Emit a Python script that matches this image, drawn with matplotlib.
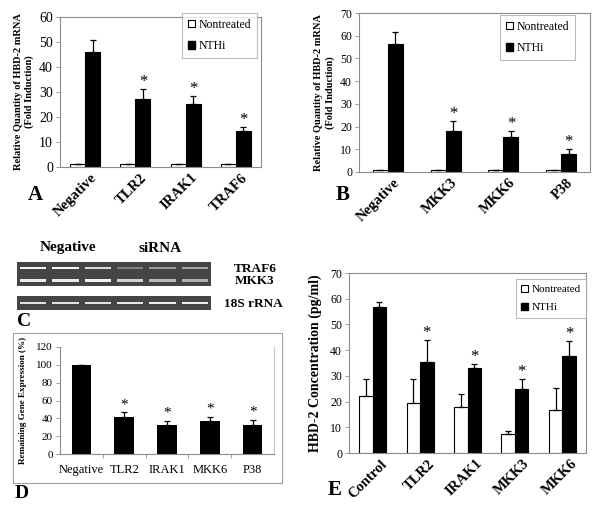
import matplotlib
matplotlib.use('Agg')
import matplotlib.pyplot as plt
import matplotlib.transforms as mtrans
import numpy as np
from matplotlib.patches import Patch, Rectangle

plt.rcParams['font.family'] = ['Liberation Serif', 'DejaVu Serif']

# ---- data ----
a_labels = ['Negative', 'TLR2', 'IRAK1', 'TRAF6']
a_non = [1.3, 1.3, 1.3, 1.3]
a_non_err = [0, 0, 0, 0]
a_nthi = [46.1, 27.1, 25.2, 14.6]
a_nthi_err = [4.9, 4.0, 3.1, 1.3]
a_star = [False, True, True, True]

b_labels = ['Negative', 'MKK3', 'MKK6', 'P38']
b_non = [0.8, 0.8, 0.8, 0.8]
b_non_err = [0, 0, 0, 0]
b_nthi = [56.4, 17.9, 15.3, 7.9]
b_nthi_err = [5.4, 4.6, 2.6, 2.1]
b_star = [False, True, True, True]

gel_lanes = [0, 1, 2, 3, 4, 5]
gel_traf6 = [0.95, 0.97, 0.85, 0.5, 0.6, 0.65]
gel_mkk3 = [0.92, 0.92, 0.95, 0.82, 0.72, 0.68]
gel_18s = [0.88, 0.88, 0.88, 0.9, 0.93, 0.93]

d_labels = ['Negative', 'TLR2', 'IRAK1', 'MKK6', 'P38']
d_vals = [100, 41, 33, 37.4, 33]
d_err = [0, 5.7, 4, 4.1, 5]
d_star = [False, True, True, True, True]

e_labels = ['Control', 'TLR2', 'IRAK1', 'MKK3', 'MKK6']
e_non = [22.1, 19.6, 17.7, 7.5, 16.9]
e_non_err = [6.7, 9.2, 5.3, 1.1, 8.4]
e_nthi = [56.6, 35.5, 32.9, 24.7, 37.8]
e_nthi_err = [2.0, 8.3, 1.6, 4.0, 5.7]
e_star = [False, True, True, True, True]

W, H = 600, 517
fig = plt.figure(figsize=(6, 5.17), dpi=100)


def box(l, t, r, b):
    return [l / W, 1 - b / H, (r - l) / W, (b - t) / H]


def frame(ax):
    for s in ax.spines.values():
        s.set_color('#8c8c8c')
        s.set_linewidth(0.8)
    ax.tick_params(axis='y', length=3, width=0.6, color='#8c8c8c', pad=2)
    ax.tick_params(axis='x', length=0)


def stars(ax, x, tops, flags, off=5, size=12):
    for xi, t, f in zip(x, tops, flags):
        if f:
            ax.annotate('*', (xi, t), xytext=(0, off), textcoords='offset points',
                        ha='center', va='center', fontsize=size)


def grouped(ax, labels, non, non_err, nthi, nthi_err, flags, w, lab_size, shift):
    x = np.arange(len(labels))
    ek = dict(lw=0.9, capthick=0.9, ecolor='black')
    ax.bar(x - w / 2, non, w, color='white', edgecolor='black', lw=0.8,
           yerr=[np.zeros(len(x)), non_err], capsize=2.5, error_kw=ek)
    ax.bar(x + w / 2, nthi, w, color='black', edgecolor='black', lw=0.8,
           yerr=[np.zeros(len(x)), nthi_err], capsize=2.5, error_kw=ek)
    stars(ax, x + w / 2, np.array(nthi) + np.array(nthi_err), flags)
    ax.set_xlim(-0.5, len(x) - 0.5)
    ax.set_xticks(x)
    ax.set_xticklabels(labels, rotation=45, ha='right', va='top',
                       rotation_mode='anchor', fontweight='bold', fontsize=lab_size)
    frame(ax)
    ax.tick_params(axis='x', pad=3)
    off = mtrans.ScaledTranslation(shift / 100, 0, fig.dpi_scale_trans)
    for t in ax.get_xticklabels():
        t.set_transform(t.get_transform() + off)


def legend(ax, x, y, size):
    h = [Patch(facecolor='white', edgecolor='black', lw=0.8),
         Patch(facecolor='black', edgecolor='black')]
    lg = ax.legend(h, ['Nontreated', 'NTHi'], loc='upper right',
                   bbox_to_anchor=(x / W, 1 - y / H), bbox_transform=fig.transFigure,
                   fancybox=False, edgecolor='#aaaaaa', fontsize=size,
                   handlelength=0.6, handleheight=0.6, handletextpad=0.3,
                   borderpad=0.5, labelspacing=0.8, borderaxespad=0)
    lg.get_frame().set_linewidth(0.8)


# ---- A ----
axA = fig.add_axes(box(60, 17, 261, 167))
grouped(axA, a_labels, a_non, a_non_err, a_nthi, a_nthi_err, a_star, 0.3, 10.5, 5)
axA.set_ylim(0, 60)
axA.set_yticks(range(0, 61, 10))
axA.tick_params(axis='y', labelsize=10)
axA.set_ylabel('Relative Quantity of HBD-2 mRNA\n(Fold Induction)',
               fontweight='bold', fontsize=7.5, labelpad=4)
legend(axA, 257, 13, 8.5)
fig.text(35 / W, 1 - 195 / H, 'A', fontsize=15, fontweight='bold', ha='center', va='center')

# ---- B ----
axB = fig.add_axes(box(359, 13, 590, 172))
grouped(axB, b_labels, b_non, b_non_err, b_nthi, b_nthi_err, b_star, 0.26, 10.5, 5)
axB.set_ylim(0, 70)
axB.set_yticks(range(0, 71, 10))
axB.tick_params(axis='y', labelsize=8.5)
axB.set_ylabel('Relative Quantity of HBD-2 mRNA\n(Fold Induction)',
               fontweight='bold', fontsize=7.5, labelpad=4)
legend(axB, 575, 15, 8.5)
fig.text(343 / W, 1 - 195 / H, 'B', fontsize=15, fontweight='bold', ha='center', va='center')

# ---- C (gel) ----
bg = '#454545'
gel1 = fig.add_axes(box(17, 262, 211, 286))
gel2 = fig.add_axes(box(17, 296, 211, 310))
for g in (gel1, gel2):
    g.set_facecolor(bg)
    g.set_xlim(-0.5, 5.5)
    g.set_ylim(0, 1)
    g.set_xticks([])
    g.set_yticks([])
    for s in g.spines.values():
        s.set_visible(False)
for row, vals, th in ((0.75, gel_traf6, 0.11), (0.22, gel_mkk3, 0.11)):
    gel1.bar(gel_lanes, [th] * 6, 0.82, bottom=row - th / 2,
             color=[plt.cm.gray(v) for v in vals])
gel2.bar(gel_lanes, [0.2] * 6, 0.82, bottom=0.5 - 0.1,
         color=[plt.cm.gray(v) for v in gel_18s])
fig.text(68 / W, 1 - 248 / H, 'Negative', fontsize=11, fontweight='bold', ha='center', va='center')
fig.text(160 / W, 1 - 248 / H, 'siRNA', fontsize=11, fontweight='bold', ha='center', va='center')
fig.text(255 / W, 1 - 269 / H, 'TRAF6', fontsize=9.5, fontweight='bold', ha='center', va='center')
fig.text(255 / W, 1 - 281 / H, 'MKK3', fontsize=9.5, fontweight='bold', ha='center', va='center')
fig.text(224 / W, 1 - 304 / H, '18S rRNA', fontsize=9.5, fontweight='bold', ha='left', va='center')
fig.text(24 / W, 1 - 321 / H, 'C', fontsize=14, fontweight='bold', ha='center', va='center')

# ---- D ----
fig.add_artist(Rectangle((13 / W, 1 - 483 / H), (282 - 13) / W, (483 - 333) / H,
                         transform=fig.transFigure, fill=False, ec='#a0a0a0', lw=0.8))
axD = fig.add_axes(box(60, 347, 274, 454))
xd = np.arange(len(d_labels))
axD.bar(xd, d_vals, 0.46, color='black', yerr=[np.zeros(len(xd)), d_err],
        capsize=2.5, error_kw=dict(lw=0.9, capthick=0.9))
stars(axD, xd, np.array(d_vals) + np.array(d_err), d_star, off=5.5, size=11)
axD.set_xlim(-0.5, len(xd) - 0.5)
axD.set_ylim(0, 120)
axD.set_yticks(range(0, 121, 20))
axD.set_xticks(xd)
axD.set_xticklabels(d_labels, fontsize=9)
axD.set_xticks(np.arange(0.5, len(xd) - 1, 1), minor=True)
frame(axD)
axD.spines['top'].set_visible(False)
axD.spines['right'].set_color('#c8c8c8')
axD.tick_params(axis='x', which='major', length=0, pad=7)
axD.tick_params(axis='x', which='minor', length=3, color='#8c8c8c', width=0.6)
axD.tick_params(axis='y', labelsize=8)
axD.set_ylabel('Remaining Gene Expression (%)', fontweight='bold', fontsize=6.6, labelpad=7)
fig.text(22 / W, 1 - 494 / H, 'D', fontsize=14, fontweight='bold', ha='center', va='center')

# ---- E ----
axE = fig.add_axes(box(349, 273, 586, 453))
grouped(axE, e_labels, e_non, e_non_err, e_nthi, e_nthi_err, e_star, 0.285, 10.5, 8)
axE.set_ylim(0, 70)
axE.set_yticks(range(0, 71, 10))
axE.tick_params(axis='y', labelsize=8.5)
axE.set_ylabel('HBD-2 Concentration (pg/ml)', fontweight='bold', fontsize=10, labelpad=6)
legend(axE, 586, 279, 8)
fig.text(335 / W, 1 - 490 / H, 'E', fontsize=15, fontweight='bold', ha='center', va='center')

fig.savefig('out.png', dpi=100)
